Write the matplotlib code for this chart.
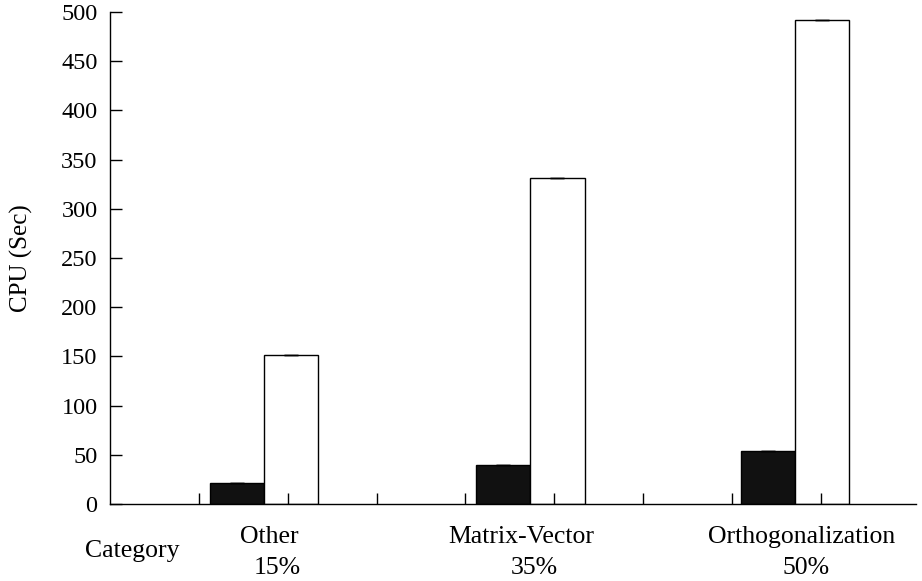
import matplotlib
matplotlib.use("Agg")
import matplotlib.pyplot as plt

# ------------------------------------------------------------------
categories = ["Other", "Matrix-Vector", "Orthogonalization"]
shares = ["15%", "35%", "50%"]
black_vals = [21, 40, 54]
white_vals = [151, 331, 492]
# ------------------------------------------------------------------


def main():
    plt.rcParams["font.family"] = ["Liberation Serif", "DejaVu Serif"]
    plt.rcParams["font.size"] = 17.5

    fig = plt.figure(figsize=(9.22, 5.81), dpi=100)
    ax = fig.add_axes([0.1193, 0.1325, 0.8742, 0.8468])

    group_pos = [1.73, 4.73, 7.71]
    w = 0.61
    xb = [g - w / 2 for g in group_pos]
    xw = [g + w / 2 for g in group_pos]

    ax.bar(xb, black_vals, width=w, color="#111111", edgecolor="black", linewidth=1)
    ax.bar(xw, white_vals, width=w, color="white", edgecolor="black", linewidth=1)
    ax.errorbar(xb, black_vals, yerr=0, fmt="none", ecolor="black", capsize=5, elinewidth=1.5)
    ax.errorbar(xw, white_vals, yerr=0, fmt="none", ecolor="black", capsize=5, elinewidth=1.5)

    ax.set_xlim(0, 9.07)
    ax.set_ylim(0, 500)
    ax.set_yticks(range(0, 501, 50))
    ax.set_xticks(range(1, 9))
    ax.set_xticklabels([])
    ax.tick_params(axis="y", direction="in", length=8.5, width=1, pad=9)
    ax.tick_params(axis="x", direction="in", length=8, width=1)
    for s in ["top", "right"]:
        ax.spines[s].set_visible(False)
    for s in ["left", "bottom"]:
        ax.spines[s].set_linewidth(1)

    ax.set_ylabel("CPU (Sec)", fontsize=18)
    ax.yaxis.set_label_coords(-0.096, 0.5)

    # category labels under the axis
    trans = ax.get_xaxis_transform()
    name_off = [0.06, -0.10, 0.07]
    pct_off = [0.15, 0.04, 0.12]
    for g, name, pct, no, po in zip(group_pos, categories, shares, name_off, pct_off):
        ax.text(g + no, -0.068, name, transform=trans, ha="center", va="center", fontsize=18.5)
        ax.text(g + po, -0.131, pct, transform=trans, ha="center", va="center", fontsize=18.5)
    ax.text(0.25, -0.095, "Category", transform=trans, ha="center", va="center", fontsize=18.5)

    fig.savefig("out.png", dpi=100)


if __name__ == "__main__":
    main()
